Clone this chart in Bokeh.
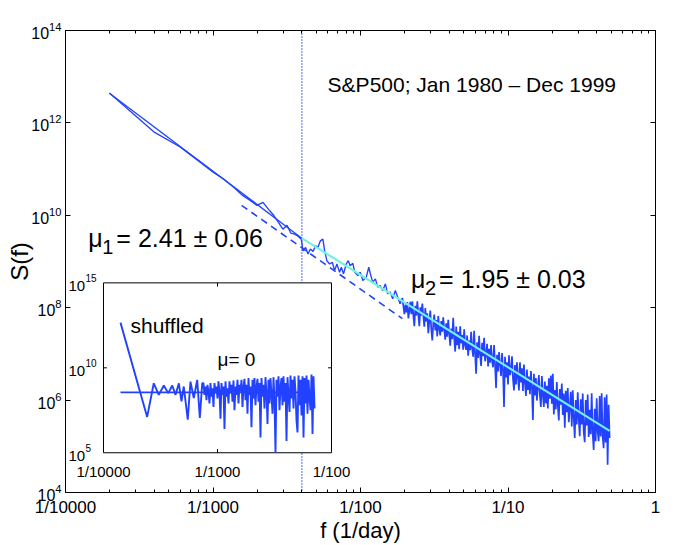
import numpy as np
from bokeh.plotting import figure
from bokeh.models import FixedTicker, LogAxis, Range1d, LogScale, Span, Label, LogTickFormatter
from bokeh.core.properties import value
from bokeh.embed import file_html
from bokeh.resources import INLINE

FONT = "Liberation Sans"
BLUE = "#2242ff"
CYAN = "#72f2dc"

# ---------------- data (log10 values) ----------------
N_DAYS = 5040                      # frequency grid f = k / N_DAYS (1/day)
low_k = list(range(1, 21))
low_logS = [12.645, 11.806, 11.484, 11.183, 10.946, 10.774, 10.602, 10.430, 10.323, 10.215,
            10.280, 10.129, 10.000, 9.849, 9.699, 9.785, 9.613, 9.591, 9.548, 9.484]

mid_logf = [-2.390, -2.372, -2.356, -2.340, -2.322, -2.304, -2.289, -2.272, -2.255, -2.243,
            -2.228, -2.209, -2.191, -2.176, -2.160, -2.142, -2.130, -2.115, -2.097, -2.083,
            -2.070, -2.052, -2.039, -2.018, -2.002, -1.984, -1.961, -1.944, -1.930, -1.917,
            -1.899, -1.883, -1.867, -1.849, -1.831, -1.816, -1.799, -1.782, -1.764, -1.748, -1.732]
mid_logS = [9.232, 9.305, 9.161, 9.269, 9.219, 9.340, 9.305, 9.447, 9.484, 9.232,
            9.017, 8.946, 8.983, 8.802, 8.946, 8.768, 8.875, 8.731, 8.946, 9.017,
            8.910, 8.961, 8.768, 8.695, 8.768, 8.587, 8.660, 8.875, 8.695, 8.553,
            8.624, 8.445, 8.480, 8.372, 8.516, 8.301, 8.338, 8.194, 8.372, 8.230, 8.086]

hi_logf_range = (-1.716, -0.311)
hi_logS = [
    8.21, 8.03, 7.86, 8.07, 7.90, 8.12, 7.77, 7.93, 8.13, 7.86,
    8.14, 7.83, 7.60, 8.04, 7.83, 8.14, 7.85, 7.60, 8.01, 7.83,
    8.09, 7.82, 7.59, 7.99, 7.70, 7.88, 7.45, 7.70, 7.94, 7.54,
    7.29, 7.67, 7.85, 7.51, 7.73, 7.38, 7.82, 7.54, 7.40, 7.71,
    7.48, 7.79, 7.52, 7.31, 7.66, 7.37, 7.74, 7.43, 7.18, 7.55,
    7.32, 7.78, 7.34, 7.05, 7.59, 7.19, 7.48, 7.10, 7.60, 7.23,
    7.41, 7.09, 7.53, 7.19, 7.09, 7.40, 6.96, 7.29, 7.08, 7.48,
    7.12, 6.94, 7.50, 6.99, 6.57, 7.25, 6.91, 7.39, 6.97, 6.74,
    7.24, 6.95, 7.35, 6.84, 6.98, 7.22, 6.73, 7.11, 6.81, 7.19,
    6.85, 6.71, 7.19, 6.77, 6.26, 6.98, 6.62, 7.04, 6.77, 6.52,
    7.02, 6.66, 5.85, 6.94, 6.49, 6.82, 6.34, 6.97, 6.54, 6.64,
    6.95, 6.46, 6.21, 6.76, 6.34, 6.82, 6.50, 6.21, 6.82, 6.38,
    6.69, 6.20, 6.77, 6.39, 6.09, 6.66, 6.22, 6.51, 6.13, 6.63,
    6.27, 5.57, 6.57, 6.10, 6.48, 5.99, 6.28, 6.54, 6.10, 5.85,
    6.52, 6.10, 5.85, 6.40, 5.93, 6.31, 5.82, 6.47, 6.03, 6.53,
    5.92, 6.57, 5.69, 6.22, 5.80, 6.39, 5.88, 5.56, 6.24, 5.90,
    6.36, 5.68, 6.14, 5.40, 6.20, 5.74, 6.26, 5.52, 5.82, 6.18,
    5.43, 6.21, 5.60, 5.18, 6.00, 5.47, 6.17, 5.60, 5.22, 6.02,
    5.47, 6.14, 5.31, 5.09, 6.00, 5.45, 6.12, 5.20, 5.79, 5.26,
    6.15, 5.28, 4.92, 5.81, 5.11, 6.04, 5.32, 5.11, 6.09, 5.21,
    6.15, 5.21, 4.96, 6.06, 5.08, 6.12, 4.60, 5.90, 5.18]

# power-law fits (endpoints, log10)
fit1_logf = [-3.702, -2.398]
fit1_logS = [12.64, 9.505]
fit1_ext_logf = [-2.806, -1.716]
fit1_ext_logS = [10.215, 7.763]
fit2_logf = [-2.398, -0.311]
fit2_logS = [9.505, 5.333]

# inset: shuffled series
ins_early_logf = [-3.851, -3.617, -3.559, -3.515, -3.471, -3.432, -3.397, -3.368, -3.339,
                  -3.316, -3.296, -3.261, -3.237, -3.208, -3.178, -3.155, -3.134]
ins_early_logS = [12.66, 7.11, 9.09, 8.41, 8.96, 8.51, 8.96, 8.41, 9.09,
                  8.02, 8.90, 6.95, 9.19, 8.22, 9.29, 7.05, 9.09]
ins_dense_range = (-3.123, -2.149)
ins_dense_logS = [
    9.1, 8.4, 8.9, 8.1, 9.0, 8.6, 7.9, 9.1, 8.3, 8.8,
    7.7, 9.1, 8.5, 8.9, 8.2, 9.2, 8.6, 7.0, 9.1, 8.4,
    8.9, 6.4, 9.2, 8.3, 8.8, 7.9, 9.2, 8.5, 9.0, 8.0,
    9.25, 7.5, 8.9, 8.4, 9.3, 7.9, 9.0, 8.6, 9.3, 7.7,
    8.9, 9.35, 8.1, 9.0, 7.3, 9.4, 8.4, 8.9, 6.5, 9.3,
    8.2, 9.4, 7.8, 8.9, 9.35, 8.0, 9.1, 5.9, 9.4, 8.3,
    9.0, 7.6, 9.45, 8.5, 6.7, 9.3, 7.9, 9.4, 8.4, 7.3,
    9.45, 8.1, 5.0, 9.3, 8.3, 9.5, 7.5, 8.9, 9.4, 7.8,
    9.5, 8.0, 9.1, 5.7, 9.45, 8.4, 7.4, 9.55, 8.2, 9.3,
    7.6, 9.5, 8.6, 6.9, 6.2, 9.55, 7.8, 9.3, 7.2, 9.5,
    5.9, 9.4, 7.9, 9.55, 7.3, 9.3, 8.2, 7.5, 9.6, 6.1,
    9.5, 7.6]
ins_fit_logf = [-3.851, -2.149]
ins_fit_logS = [8.55, 8.55]

x_ticks = [1e-4, 1e-3, 1e-2, 1e-1, 1.0]
x_tick_labels = ["1/10000", "1/1000", "1/100", "1/10", "1"]
y_ticks = [1e4, 1e6, 1e8, 1e10, 1e12, 1e14]
f_mark = 1 / 250

# ---------------- assemble series ----------------
hi_logf = np.linspace(hi_logf_range[0], hi_logf_range[1], len(hi_logS))
f_lowmid = np.concatenate([np.array(low_k) / N_DAYS, 10 ** np.array(mid_logf)])
S_lowmid = 10 ** np.concatenate([low_logS, mid_logS])
# dense high-frequency part (joined to the last mid point)
f_hi = np.concatenate([[f_lowmid[-1]], 10 ** hi_logf])
S_hi = np.concatenate([[S_lowmid[-1]], 10 ** np.array(hi_logS)])

ins_dense_logf = np.linspace(ins_dense_range[0], ins_dense_range[1], len(ins_dense_logS))
f_ins = 10 ** np.concatenate([ins_early_logf, ins_dense_logf])
S_ins = 10 ** np.concatenate([ins_early_logS, ins_dense_logS])

def p10(a):
    return [10 ** v for v in a]

# ---------------- figure ----------------
p = figure(width=679, height=545, x_axis_type="log", y_axis_type="log",
           x_range=Range1d(1e-4, 1.0), y_range=Range1d(1e4, 1e14),
           output_backend="svg", toolbar_location=None,
           min_border_left=65, min_border_right=24, min_border_top=30, min_border_bottom=50)
p.grid.visible = False
p.outline_line_color = "black"
p.outline_line_width = 1

# inset coordinate system (maps the inset box inside the frame)
p.extra_x_ranges = {"ins": Range1d(10 ** -4.3333, 10 ** 0.8421)}
p.extra_y_ranges = {"ins": Range1d(10 ** 2.661, 10 ** 29.854)}
p.extra_x_scales = {"ins": LogScale()}
p.extra_y_scales = {"ins": LogScale()}

minor_x = [m * 10.0 ** e for e in range(-4, 0) for m in range(2, 10)]

def style_axis(ax):
    ax.axis_line_color = "black"
    ax.major_tick_in = 5
    ax.major_tick_out = 0
    ax.minor_tick_in = 3
    ax.minor_tick_out = 0
    ax.major_tick_line_color = "black"
    ax.minor_tick_line_color = "black"
    ax.major_label_text_font = FONT
    ax.major_label_text_color = "black"
    ax.axis_label_text_font = FONT
    ax.axis_label_text_font_style = "normal"
    ax.axis_label_text_color = "black"

xa = p.xaxis[0]
xa.ticker = FixedTicker(ticks=x_ticks, minor_ticks=minor_x)
xa.major_label_overrides = {t: lab for t, lab in zip(x_ticks, x_tick_labels)}
style_axis(xa)
xa.major_label_text_font_size = "17px"
xa.major_label_standoff = 5
xa.axis_label = "f (1/day)"
xa.axis_label_text_font_size = "22px"
xa.axis_label_standoff = -2

ya = p.yaxis[0]
ya.ticker = FixedTicker(ticks=y_ticks, minor_ticks=[])
ya.formatter = LogTickFormatter()
style_axis(ya)
ya.major_label_text_font_size = "16px"
ya.major_label_standoff = 4
ya.axis_label = "S(f)"
ya.axis_label_text_font_size = "24px"
ya.axis_label_standoff = -5

top = LogAxis(ticker=FixedTicker(ticks=x_ticks, minor_ticks=minor_x),
              major_label_overrides={t: "" for t in x_ticks})
style_axis(top)
top.major_label_text_font_size = "1px"
top.major_label_standoff = 0
p.add_layout(top, "above")

right = LogAxis(ticker=FixedTicker(ticks=y_ticks, minor_ticks=[]),
                major_label_overrides={t: "" for t in y_ticks})
style_axis(right)
right.major_label_text_font_size = "1px"
right.major_label_standoff = 0
p.add_layout(right, "right")

# 1/250 marker
span = Span(location=f_mark, dimension="height", line_color="#2f4cff",
            line_dash="1 2", line_width=1.7, level="underlay")
p.add_layout(span)
p.add_layout(Label(x=f_mark, y=1e14, x_units="data", y_units="data", text="1/250",
                   text_align="center", text_baseline="alphabetic", y_offset=7,
                   text_font=FONT, text_font_size="19px", text_color="black"))

# main curves
p.line(f_lowmid, S_lowmid, line_color=BLUE, line_width=1.35)
p.line(f_hi, S_hi, line_color=BLUE, line_width=1.7)
p.line(p10(fit1_logf), p10(fit1_logS), line_color=BLUE, line_width=1.3)
p.line(p10(fit1_ext_logf), p10(fit1_ext_logS), line_color=BLUE, line_width=1.6, line_dash="7 5")
p.line(p10(fit2_logf), p10(fit2_logS), line_color=CYAN, line_width=2.2)

# main annotations
tf = value(FONT)
p.text(x=[10 ** -2.223], y=[10 ** 12.839], text=["S&P500; Jan 1980 \u2013 Dec 1999"],
       text_font=tf, text_font_size="21px", text_baseline="alphabetic", text_color="black")
for lx, ly, sub, rest in [(-3.845, 9.505, "1", "= 2.41 \u00b1 0.06"),
                          (-1.657, 8.632, "2", "= 1.95 \u00b1 0.03")]:
    p.text(x=[10 ** lx], y=[10 ** ly], text=["\u03bc"], text_font=tf, text_font_size="25px",
           text_baseline="alphabetic", text_color="black")
    p.text(x=[10 ** lx], y=[10 ** ly], text=[sub], text_font=tf, text_font_size="20px",
           text_baseline="alphabetic", x_offset=14, y_offset=9, text_color="black")
    p.text(x=[10 ** lx], y=[10 ** ly], text=[rest], text_font=tf, text_font_size="25px",
           text_baseline="alphabetic", x_offset=28, text_color="black")

# ---------------- inset ----------------
R = dict(x_range_name="ins", y_range_name="ins")
p.quad(left=[1e-4], right=[1e-2], bottom=[1e5], top=[1e15], fill_color="white",
       line_color="black", line_width=1, **R)
# inset ticks
p.segment(x0=[1e-3, 1e-3, 1e-4, 1e-2], y0=[1e5, 1e15, 1e10, 1e10],
          x1=[1e-3, 1e-3, 1e-4 * 10 ** 0.03, 1e-2 / 10 ** 0.03],
          y1=[1e5 * 10 ** 0.22, 1e15 / 10 ** 0.22, 1e10, 1e10],
          line_color="black", line_width=1, **R)
p.line(f_ins, S_ins, line_color=BLUE, line_width=1.9, **R)
p.line(p10(ins_fit_logf), p10(ins_fit_logS), line_color=BLUE, line_width=1.7, **R)

p.text(x=[1e-4, 1e-3, 1e-2], y=[1e5, 1e5, 1e5], text=["1/10000", "1/1000", "1/100"],
       text_font=tf, text_font_size="15px", text_align="center", text_baseline="top",
       y_offset=10, text_color="black", **R)
p.text(x=[1e-4] * 3, y=[1e5, 1e10, 1e15], text=["10", "10", "10"], text_font=tf,
       text_font_size="15px", text_align="left", text_baseline="middle",
       x_offset=-35, y_offset=3, text_color="black", **R)
p.text(x=[1e-4] * 3, y=[1e5, 1e10, 1e15], text=["5", "10", "15"], text_font=tf,
       text_font_size="10px", text_align="left", text_baseline="middle",
       x_offset=-18, y_offset=-5, text_color="black", **R)
p.text(x=[10 ** -3.763], y=[10 ** 12.50], text=["shuffled"], text_font=tf,
       text_font_size="21px", text_baseline="alphabetic", text_color="black", **R)
p.text(x=[10 ** -3.0], y=[10 ** 10.51], text=["\u03bc= 0"], text_font=tf,
       text_font_size="19px", text_baseline="alphabetic", text_color="black", **R)

open("out.html", "w").write(file_html(p, INLINE))
